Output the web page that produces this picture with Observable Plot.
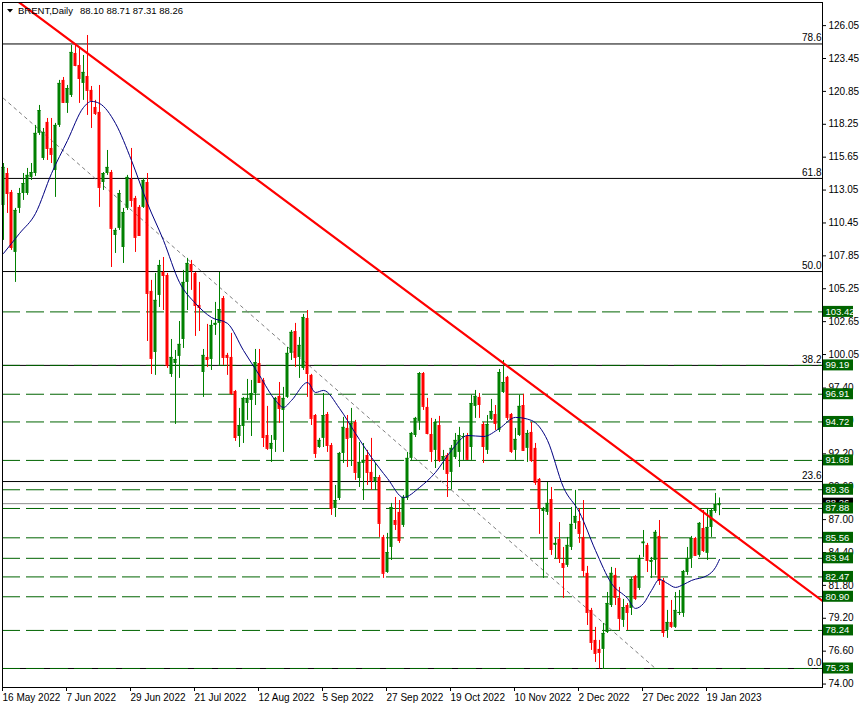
<!DOCTYPE html>
<html><head><meta charset="utf-8">
<script src="https://cdn.jsdelivr.net/npm/d3@7"></script>
<script src="https://cdn.jsdelivr.net/npm/@observablehq/plot@0.6"></script>
<style>
html,body{margin:0;padding:0;background:#fff;}
#chart svg{display:block;}
</style></head><body><div id="chart"></div>
<script>
// ---- data (BRENT daily, bar index 0 = 16 May 2022) ----
const opens = [111.83,114.36,112.86,108.12,111.60,112.78,112.78,114.05,114.36,117.53,115.55,118.40,116.34,114.60,118.16,121.72,119.90,120.53,123.85,122.90,121.48,122.03,120.93,119.58,119.19,113.65,114.36,114.44,109.46,110.02,108.51,111.60,113.89,112.39,111.68,111.68,113.65,105.04,100.21,104.72,106.54,106.30,98.47,99.34,99.90,101.24,105.75,107.17,106.46,103.93,98.63,99.82,99.66,102.35,102.51,104.48,99.98,99.82,97.13,93.57,94.36,96.18,96.42,96.97,99.34,98.00,93.65,92.55,93.26,96.74,95.63,96.66,100.14,101.87,99.82,98.95,102.90,98.40,95.23,92.70,93.42,95.31,92.86,87.88,88.67,92.23,94.21,93.42,94.68,90.25,91.44,92.07,90.73,89.94,90.33,85.59,82.82,84.80,86.93,87.57,86.54,88.67,91.84,93.65,94.76,98.55,95.87,93.73,92.47,94.44,91.68,92.07,90.73,91.91,92.31,93.49,93.57,92.70,95.95,96.66,94.52,92.47,94.92,95.31,94.05,97.05,98.24,95.31,92.47,93.65,96.02,92.63,93.89,92.63,90.18,87.64,87.57,88.59,84.96,85.43,83.53,83.38,84.80,86.70,86.85,85.59,82.75,79.82,77.45,76.74,76.74,78.08,80.21,82.59,80.77,79.03,80.21,79.98,82.51,81.56,85.09,84.96,83.61,83.77,85.67,82.19,78.24,78.87,78.48,79.58,79.58,82.82,83.93,85.51,84.17,86.30,84.33,86.38,87.64,88.10];
const highs = [115.15,114.76,113.02,111.60,113.18,114.36,114.76,115.15,118.16,119.74,117.92,118.71,118.71,118.32,121.72,121.95,121.32,124.48,124.48,124.32,123.69,125.27,121.24,120.14,121.32,114.44,116.18,114.60,110.02,113.02,111.60,114.21,116.34,112.55,111.83,113.97,114.36,105.91,106.46,107.49,107.72,106.46,101.24,100.37,102.66,106.70,107.65,107.49,106.54,105.75,100.45,102.43,102.74,104.17,106.54,104.64,100.14,101.72,97.21,95.79,96.66,98.08,98.00,100.45,100.45,98.16,95.95,93.65,96.66,97.84,97.45,100.61,101.95,102.51,101.40,103.22,103.53,98.48,95.31,93.42,96.97,95.47,93.02,89.70,92.31,95.08,95.23,95.79,94.84,93.10,93.02,92.47,93.42,91.44,90.49,85.75,85.91,88.28,88.75,88.51,88.91,92.31,93.89,95.08,98.63,98.63,96.58,95.00,94.92,95.16,92.47,92.23,92.86,93.81,94.29,93.81,93.81,96.82,97.21,96.97,94.68,95.23,96.50,96.02,98.87,99.58,98.32,95.39,94.21,96.82,96.90,94.05,94.68,93.02,90.25,87.96,89.94,89.54,85.51,86.77,84.80,85.59,87.96,89.31,87.88,88.51,83.30,79.98,78.48,77.45,78.79,81.24,83.22,83.14,81.64,80.69,80.37,82.43,82.59,84.17,86.14,85.12,84.01,86.14,86.93,82.35,79.82,80.61,81.24,81.40,82.98,84.80,85.67,85.59,86.77,87.72,87.88,87.88,89.07,88.71];
const lows = [109.07,111.20,108.28,105.75,111.20,112.23,112.63,113.81,114.13,117.37,115.39,115.39,115.15,112.47,118.00,119.90,119.11,120.37,122.80,119.90,120.14,118.95,117.92,118.95,111.68,113.02,114.21,106.93,108.04,109.86,107.25,111.44,111.68,108.12,109.38,111.60,101.08,98.47,98.40,103.77,103.53,98.95,98.24,94.52,98.16,100.53,103.53,105.12,101.48,101.87,96.66,99.03,98.79,101.56,99.19,99.19,98.40,96.82,93.18,92.70,93.02,94.84,93.57,96.02,97.76,92.70,92.47,91.52,92.31,94.60,92.31,96.58,99.58,99.03,98.16,98.79,96.66,94.44,91.84,92.63,92.70,92.31,87.33,87.17,88.51,91.44,91.12,91.20,90.10,89.54,88.51,89.70,89.31,89.31,85.59,82.35,82.75,83.77,86.14,85.12,86.38,88.51,91.68,93.49,94.05,95.63,93.70,91.52,91.04,91.52,90.89,88.75,89.38,91.76,91.12,91.68,91.68,91.68,95.00,95.00,91.44,92.15,94.84,94.05,93.89,96.97,94.84,92.23,91.68,93.57,92.39,91.52,91.52,89.70,85.83,82.35,87.33,84.17,83.93,83.53,80.77,83.22,84.56,86.22,85.12,82.43,78.63,76.66,75.71,75.20,75.16,78.00,80.05,80.21,78.24,78.48,78.24,79.42,80.61,81.40,84.01,82.82,82.35,82.59,81.80,77.69,77.61,78.40,78.40,79.42,79.27,82.59,83.14,84.09,84.01,84.40,83.77,85.59,87.49,87.31];
const closes = [114.84,112.78,108.51,111.44,112.78,113.57,114.21,114.44,117.53,119.34,117.61,116.34,115.87,118.16,121.48,119.98,121.08,123.93,122.90,121.87,122.35,120.93,120.14,119.11,113.26,114.36,114.84,110.02,109.86,112.78,111.28,114.05,112.23,109.31,109.46,113.81,104.88,99.74,104.33,107.09,106.30,99.19,99.82,99.66,100.85,105.75,107.25,106.70,103.93,103.77,99.98,99.66,102.35,102.51,103.61,99.82,99.82,96.97,93.49,94.44,96.58,96.58,96.97,99.42,97.84,93.49,92.63,93.02,96.58,95.79,96.58,100.14,101.80,99.82,100.77,102.98,98.55,95.00,92.23,93.26,95.23,92.86,87.88,88.51,92.23,94.29,93.42,94.60,90.73,91.52,91.68,90.73,90.10,90.33,86.70,82.75,84.40,87.96,86.62,85.35,88.75,91.84,93.81,95.00,98.55,95.95,93.81,92.39,94.68,91.68,91.99,90.65,92.63,93.26,93.65,93.57,91.76,96.18,96.74,96.10,92.78,94.52,95.55,94.60,98.63,97.84,95.08,92.39,93.34,95.95,92.47,93.81,91.68,89.94,87.88,87.88,88.28,84.64,85.12,83.93,83.22,84.96,86.62,87.25,85.91,82.98,79.66,77.29,76.42,76.50,78.00,80.37,82.75,80.85,79.19,80.05,79.66,82.27,80.77,83.93,85.22,83.77,83.77,85.99,82.19,78.08,78.87,78.56,79.82,79.66,82.90,83.93,85.51,84.17,86.70,84.56,86.38,87.72,88.20,88.26];

// moving average
const maIdx  = [0,4,8,12,16,20,22,24,28,32,36,40,44,48,52,56,60,64,68,70,72,76,78,80,84,88,92,96,100,104,108,112,116,120,124,128,132,136,140,144,148,152,156,158,160,162,164,166,168,170,172,176,178,179];
const maVals = [108.04,109.62,111.20,114.36,116.97,119.58,120.06,119.90,118.32,115.39,111.99,109.07,105.75,104.09,102.98,102.51,100.37,98.40,96.42,95.87,96.42,97.84,97.05,97.21,95.79,93.81,91.91,90.25,88.75,89.54,90.73,92.47,93.65,93.57,94.21,95.08,94.84,93.26,89.54,87.57,84.56,81.95,80.77,79.98,80.37,81.40,82.27,81.95,81.64,81.87,82.19,82.59,83.22,83.85];

// horizontal levels
const levelPrices = [103.42,99.19,96.91,94.72,91.68,89.36,87.88,85.56,83.94,82.47,80.90,78.24,75.23];
const fibLabels = ["78.6","61.8","50.0","38.2","23.6","0.0"];
const fibPrices = [124.60,113.97,106.61,99.19,90.01,75.23];
const lastPrice = 88.26;

// trend line & guide line anchor points (bar index, price)
const trendIdx = [3.25,204.75];
const trendPrice = [128.04,80.57];
const guideIdx = [0,163];
const guidePrice = [120.30,75.23];

// axis ticks
const priceTicks = [74.00,76.60,79.20,81.80,84.40,87.00,89.60,92.20,94.80,97.40,100.05,102.65,105.25,107.85,110.45,113.05,115.65,118.25,120.85,123.45,126.05];
const dateTickIdx = [0,16,32,48,64,80,96,112,128,144,160,176];
const dateTickLabels = ["16 May 2022","7 Jun 2022","29 Jun 2022","21 Jul 2022","12 Aug 2022","5 Sep 2022","27 Sep 2022","19 Oct 2022","10 Nov 2022","2 Dec 2022","27 Dec 2022","19 Jan 2023"];
const symbolText = "BRENT,Daily";
const ohlcText = "88.10 88.71 87.31 88.26";

// ---- build tables ----
const candles = opens.map((o, i) => ({i, o, h: highs[i], l: lows[i], c: closes[i]}));
const up = candles.filter(d => d.c >= d.o);
const dn = candles.filter(d => d.c < d.o);
const ma = maIdx.map((i, k) => ({i, v: maVals[k]}));
const trend = trendIdx.map((i, k) => ({i, v: trendPrice[k]}));
const guide = guideIdx.map((i, k) => ({i, v: guidePrice[k]}));
const fibs = fibPrices.map((v, k) => ({v, t: fibLabels[k]}));

const GREEN = "#008000", RED = "#ff0000", LVL = "#006400";
const FONT = "'Liberation Sans', Arial, sans-serif";

const chart = Plot.plot({
  width: 862, height: 708,
  marginLeft: 2, marginRight: 40, marginTop: 2, marginBottom: 21,
  style: {fontFamily: FONT, fontSize: "10px", background: "#fff", color: "#000"},
  x: {type: "linear", domain: [-0.25, 204.75]},
  y: {type: "linear", domain: [73.728, 127.878]},
  marks: [
    Plot.ruleY(fibPrices, {stroke: "#000", strokeWidth: 1}),
    Plot.text(fibs, {x: () => 204.5, y: "v", text: "t", textAnchor: "end", dy: -6, fill: "#000", fontSize: 10}),
    Plot.ruleY(levelPrices, {stroke: LVL, strokeWidth: 1, strokeDasharray: "18,6"}),
    Plot.ruleY([lastPrice], {stroke: "#8c8c8c", strokeWidth: 1}),
    Plot.line(guide, {x: "i", y: "v", stroke: "#808080", strokeWidth: 1, strokeDasharray: "3,4"}),
    Plot.ruleX(up, {x: "i", y1: "l", y2: "h", stroke: GREEN, strokeWidth: 1}),
    Plot.ruleX(dn, {x: "i", y1: "l", y2: "h", stroke: RED, strokeWidth: 1}),
    Plot.rect(up, {x1: d => d.i - 0.375, x2: d => d.i + 0.375, y1: "o", y2: "c", fill: GREEN}),
    Plot.rect(dn, {x1: d => d.i - 0.375, x2: d => d.i + 0.375, y1: "o", y2: "c", fill: RED}),
    Plot.ruleY(up, {x1: d => d.i - 0.375, x2: d => d.i + 0.375, y: "c", stroke: GREEN}),
    Plot.ruleY(dn, {x1: d => d.i - 0.375, x2: d => d.i + 0.375, y: "c", stroke: RED}),
    Plot.line(ma, {x: "i", y: "v", stroke: "#000080", strokeWidth: 1, curve: "monotone-x"}),
    Plot.line(trend, {x: "i", y: "v", stroke: RED, strokeWidth: 2.2, clip: true}),
    Plot.frame({stroke: "#000"}),
    Plot.axisY({anchor: "right", ticks: priceTicks, tickFormat: d => d.toFixed(2), tickSize: 3, tickPadding: 3, label: null, fontSize: 10}),
    Plot.axisX({anchor: "bottom", ticks: dateTickIdx, tickFormat: d => dateTickLabels[dateTickIdx.indexOf(d)], tickSize: 4, tickPadding: 2, textAnchor: "start", dx: -1, label: null, fontSize: 10})
  ]
});

// ---- price label boxes and header, positioned through Plot's y scale ----
const svg = d3.select(chart);
const ys = chart.scale("y");
const g = svg.append("g").attr("font-family", FONT).attr("font-size", 9.5).attr("text-anchor", "start");
function box(p, bg) {
  const y = ys.apply(p);
  g.append("rect").attr("x", 823).attr("y", y - 5.5).attr("width", 30).attr("height", 11).attr("fill", bg);
  g.append("text").attr("x", 825.5).attr("y", y).attr("dy", "0.35em").attr("text-anchor", "start").attr("fill", "#fff").text(p.toFixed(2));
}
box(lastPrice, "#000");
levelPrices.forEach(p => box(p, LVL));

const hdr = svg.append("g").attr("font-family", FONT).attr("font-size", 9.5).attr("fill", "#000").attr("text-anchor", "start");
hdr.append("path").attr("d", "M7,9 L13,9 L10,12.5 Z").attr("fill", "#000");
hdr.append("text").attr("x", 18).attr("y", 11).attr("dy", "0.35em").attr("text-anchor", "start").text(symbolText);
hdr.append("text").attr("x", 80).attr("y", 11).attr("dy", "0.35em").attr("text-anchor", "start").text(ohlcText);

document.getElementById("chart").appendChild(chart);
</script>
</body></html>
